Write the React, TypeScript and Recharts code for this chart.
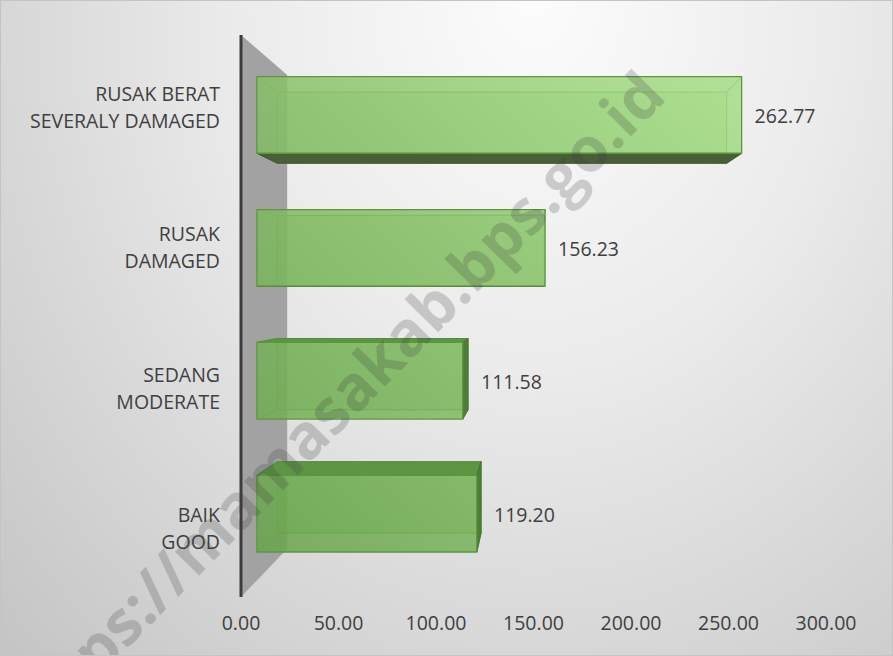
import React from "react";
import {
  BarChart,
  Bar,
  XAxis,
  YAxis,
  LabelList,
  ReferenceArea,
} from "recharts";

const categories = [
  "RUSAK BERAT\nSEVERALY DAMAGED",
  "RUSAK\nDAMAGED",
  "SEDANG\nMODERATE",
  "BAIK\nGOOD",
];
const values = [262.77, 156.23, 111.58, 119.2];
const xTicks = [0, 50, 100, 150, 200, 250, 300];
const watermark = "https://mamasakab.bps.go.id";

const data = categories.map((name, i) => ({ name, value: values[i] }));

const W = 893;
const H = 656;
const MARGIN = { top: 35, right: 67, left: 0, bottom: 0 };
const Y_AXIS_W = 241;
const X_AXIS_H = 59;
const PLOT_LEFT = MARGIN.left + Y_AXIS_W;
const PLOT_TOP = MARGIN.top;
const PLOT_W = W - PLOT_LEFT - MARGIN.right;
const PLOT_H = H - PLOT_TOP - X_AXIS_H;

// fake 3d: everything is projected toward a vanishing point
const VP_X = PLOT_LEFT + PLOT_W * 0.503;
const VP_Y = PLOT_TOP + PLOT_H * 0.452;
const BAR_FRONT = 0.946;
const BAR_BACK = 0.877;
const WALL_BACK = 0.843;

const FONT = "'Open Sans', 'Noto Sans', sans-serif";
const TEXT = "#404040";
const FS = 19.5;

type Pt = [number, number];
const proj = (px: number, py: number, k: number): Pt => [
  VP_X + k * (px - VP_X),
  VP_Y + k * (py - VP_Y),
];
const pts = (...ps: Pt[]) => ps.map((p) => p.join(",")).join(" ");

function Wall(props: any) {
  const { x, y, height } = props;
  const top = proj(x, y, WALL_BACK);
  const bot = proj(x, y + height, WALL_BACK);
  return (
    <g>
      <polygon points={pts([x, y], top, bot, [x, y + height])} fill="#a2a2a2" />
      <line x1={x} y1={y} x2={x} y2={y + height} stroke="#3d3d3d" strokeWidth={3} />
    </g>
  );
}

function Bar3D(props: any) {
  const { x, y, width, height } = props;
  const L = x;
  const R = x + width;
  const T = y;
  const B = y + height;
  const f = (px: number, py: number) => proj(px, py, BAR_FRONT);
  const b = (px: number, py: number) => proj(px, py, BAR_BACK);
  const fTL = f(L, T), fTR = f(R, T), fBR = f(R, B), fBL = f(L, B);
  const bTL = b(L, T), bTR = b(R, T), bBR = b(R, B), bBL = b(L, B);
  return (
    <g>
      <polygon
        points={pts(bTL, bTR, bBR, bBL)}
        fill="url(#barFill)"
        fillOpacity={0.4}
        stroke="#64a244"
        strokeWidth={1.2}
      />
      {[
        [fTL, bTL],
        [fTR, bTR],
        [fBR, bBR],
        [fBL, bBL],
      ].map(([p, q], i) => (
        <line key={i} x1={p[0]} y1={p[1]} x2={q[0]} y2={q[1]} stroke="#64a244" strokeWidth={1.2} />
      ))}
      {B < VP_Y && (
        <polygon points={pts(fBL, fBR, bBR, bBL)} fill="#4a5e3a" stroke="#435535" strokeWidth={1} />
      )}
      {T > VP_Y && (
        <polygon points={pts(fTL, fTR, bTR, bTL)} fill="#5d9545" stroke="#568b3f" strokeWidth={1} />
      )}
      {R < VP_X && (
        <polygon points={pts(fTR, bTR, bBR, fBR)} fill="#4d7e38" stroke="#487634" strokeWidth={1} />
      )}
      <polygon
        points={pts(fTL, fTR, fBR, fBL)}
        fill="url(#barFill)"
        fillOpacity={0.84}
        stroke="#5a993a"
        strokeWidth={1.3}
      />
    </g>
  );
}

function ValueLabel(props: any) {
  const { x, y, width, height, value } = props;
  const R = x + width;
  const front = proj(R, y + height / 2, BAR_FRONT);
  const back = proj(R, y + height / 2, BAR_BACK);
  return (
    <text
      x={Math.max(front[0], back[0]) + 13}
      y={front[1] + 1}
      fill={TEXT}
      fontSize={FS}
      fontFamily={FONT}
      dominantBaseline="central"
    >
      {Number(value).toFixed(2)}
    </text>
  );
}

function CategoryTick(props: any) {
  const { x, y, payload } = props;
  const lines = String(payload.value).split("\n");
  return (
    <text x={x - 21} y={y + 1.5} textAnchor="end" fill={TEXT} fontSize={FS} fontFamily={FONT}>
      {lines.map((l, i) => (
        <tspan key={i} x={x - 21} dy={i === 0 ? -13.5 * (lines.length - 1) : 27} dominantBaseline="central">
          {l}
        </tspan>
      ))}
    </text>
  );
}

function ValueTick(props: any) {
  const { x, y, payload } = props;
  return (
    <text x={x} y={y + 25} textAnchor="middle" dominantBaseline="central" fill={TEXT} fontSize={FS} fontFamily={FONT}>
      {Number(payload.value).toFixed(2)}
    </text>
  );
}

export default function App() {
  return (
    <div
      style={{
        position: "absolute",
        left: 0,
        top: 0,
        width: W,
        height: H,
        boxSizing: "border-box",
        border: "1px solid #c4c4c4",
        background:
          "radial-gradient(farthest-corner at 60% 0%, #fcfcfc 0%, #ebebeb 40%, #c4c4c4 100%)",
        overflow: "hidden",
        fontFamily: FONT,
      }}
    >
      <div style={{ position: "absolute", left: -1, top: -1 }}>
        <BarChart
          width={W}
          height={H}
          data={data}
          layout="vertical"
          margin={MARGIN}
          barCategoryGap="21%"
        >
          <defs>
            <linearGradient id="barFill" gradientUnits="userSpaceOnUse" x1={241} y1={600} x2={760} y2={80}>
              <stop offset="0%" stopColor="#62a045" />
              <stop offset="100%" stopColor="#a8de88" />
            </linearGradient>
          </defs>
          <XAxis
            type="number"
            domain={[0, 300]}
            ticks={xTicks}
            height={X_AXIS_H}
            axisLine={false}
            tickLine={false}
            tickSize={0}
            tickMargin={0}
            interval={0}
            tick={<ValueTick />}
          />
          <YAxis
            type="category"
            dataKey="name"
            width={Y_AXIS_W}
            axisLine={false}
            tickLine={false}
            tickSize={0}
            tickMargin={0}
            interval={0}
            tick={<CategoryTick />}
          />
          <ReferenceArea x1={0} x2={300} shape={<Wall />} />
          <Bar dataKey="value" shape={<Bar3D />} isAnimationActive={false}>
            <LabelList dataKey="value" content={<ValueLabel />} />
          </Bar>
        </BarChart>
      </div>
      <div
        style={{
          position: "absolute",
          left: 332,
          top: 404,
          transform: "translate(-50%, -50%) rotate(-45.5deg)",
          whiteSpace: "nowrap",
          fontSize: 62,
          fontWeight: 700,
          color: "rgba(60, 60, 60, 0.22)",
          pointerEvents: "none",
        }}
      >
        {watermark}
      </div>
    </div>
  );
}
